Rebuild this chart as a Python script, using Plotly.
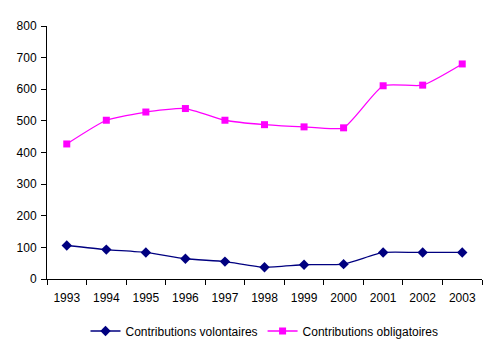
import plotly.graph_objects as go

years = ["1993", "1994", "1995", "1996", "1997", "1998", "1999", "2000", "2001", "2002", "2003"]
volontaires = [106, 93, 84, 64, 55, 37, 45, 47, 84, 84, 84]
obligatoires = [427, 502, 528, 539, 502, 488, 481, 478, 611, 613, 680]
y_ticks = [0, 100, 200, 300, 400, 500, 600, 700, 800]

fig = go.Figure()
fig.add_trace(go.Scatter(
    x=years, y=volontaires, name="Contributions volontaires",
    mode="lines+markers",
    line=dict(color="#000080", width=1.3, shape="spline", smoothing=0.5),
    marker=dict(symbol="diamond", size=8, color="#000080"),
))
fig.add_trace(go.Scatter(
    x=years, y=obligatoires, name="Contributions obligatoires",
    mode="lines+markers",
    line=dict(color="#FF00FF", width=1.3, shape="spline", smoothing=0.5),
    marker=dict(symbol="square", size=7, color="#FF00FF"),
))

fig.update_layout(
    width=496, height=349,
    margin=dict(l=47, r=14, t=26, b=70, autoexpand=False),
    paper_bgcolor="white", plot_bgcolor="white",
    font=dict(family="Liberation Sans, Arial, sans-serif", size=12, color="black"),
    showlegend=True,
    legend=dict(orientation="h", x=0.5, xanchor="center", yref="container",
                y=1 - 331 / 349, yanchor="middle",
                font=dict(size=12), itemwidth=30, tracegroupgap=0),
    xaxis=dict(type="category", tickson="boundaries", ticks="outside", ticklen=5,
               tickcolor="black", showline=True, linecolor="black", linewidth=1,
               showgrid=False, zeroline=False, range=[-0.5, 10.5],
               ticklabelstandoff=8, automargin=False),
    yaxis=dict(range=[0, 800], tickvals=y_ticks, ticks="outside", ticklen=5,
               tickcolor="black", showline=True, linecolor="black", linewidth=1,
               showgrid=False, zeroline=False, ticklabelstandoff=2, automargin=False),
)

fig.write_html("out.html")
